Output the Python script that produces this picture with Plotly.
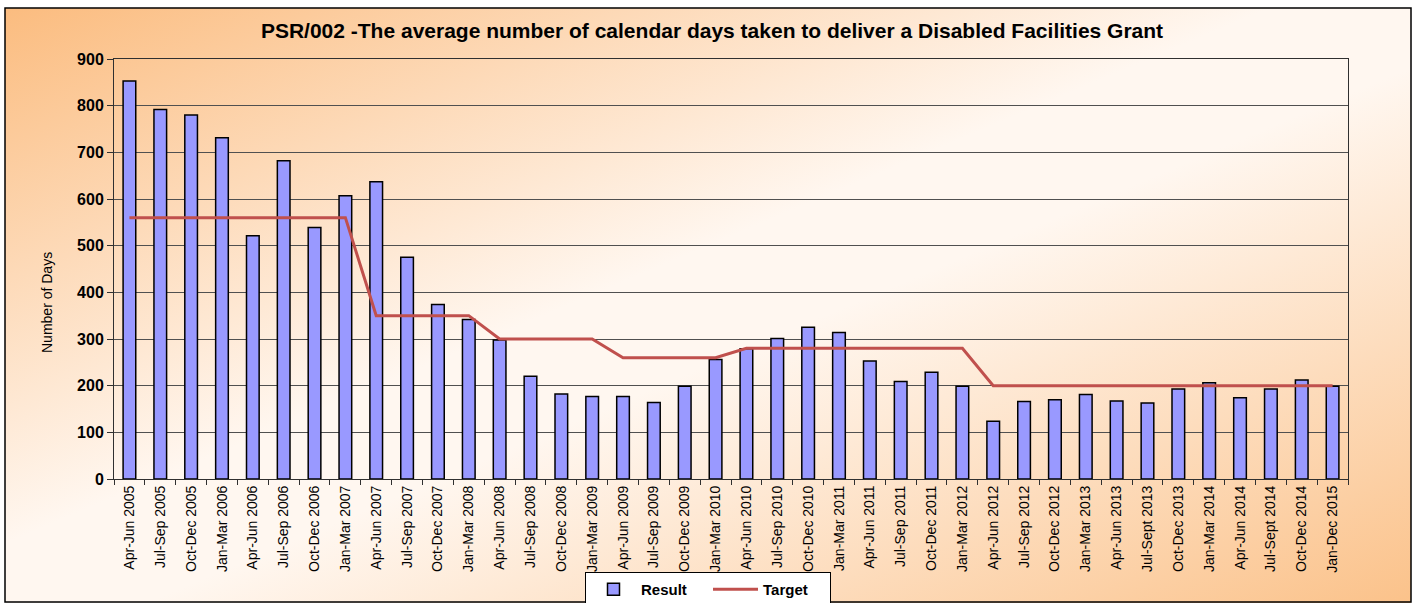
import base64
import plotly.graph_objects as go

quarters = [
    "Apr-Jun 2005", "Jul-Sep 2005", "Oct-Dec 2005", "Jan-Mar 2006",
    "Apr-Jun 2006", "Jul-Sep 2006", "Oct-Dec 2006", "Jan-Mar 2007",
    "Apr-Jun 2007", "Jul-Sep 2007", "Oct-Dec 2007", "Jan-Mar 2008",
    "Apr-Jun 2008", "Jul-Sep 2008", "Oct-Dec 2008", "Jan-Mar 2009",
    "Apr-Jun 2009", "Jul-Sep 2009", "Oct-Dec 2009", "Jan-Mar 2010",
    "Apr-Jun 2010", "Jul-Sep 2010", "Oct-Dec 2010", "Jan-Mar 2011",
    "Apr-Jun 2011", "Jul-Sep 2011", "Oct-Dec 2011", "Jan-Mar 2012",
    "Apr-Jun 2012", "Jul-Sep 2012", "Oct-Dec 2012", "Jan-Mar 2013",
    "Apr-Jun 2013", "Jul-Sept 2013", "Oct-Dec 2013", "Jan-Mar 2014",
    "Apr-Jun 2014", "Jul-Sept 2014", "Oct-Dec 2014", "Jan-Dec 2015",
]

result = [
    853, 792, 780, 731, 521, 682, 539, 607,
    637, 475, 374, 342, 298, 220, 182, 177,
    177, 164, 199, 256, 279, 301, 325, 314,
    253, 209, 229, 199, 124, 166, 170, 181,
    167, 163, 193, 206, 174, 193, 212, 199,
]

target = [
    560, 560, 560, 560, 560, 560, 560, 560,
    350, 350, 350, 350, 300, 300, 300, 300,
    260, 260, 260, 260, 280, 280, 280, 280,
    280, 280, 280, 280, 200, 200, 200, 200,
    200, 200, 200, 200, 200, 200, 200, 200,
]

title_text = "PSR/002 -The average number of calendar days taken to deliver a Disabled Facilities Grant"
y_title = "Number of Days"

FONT = "Liberation Sans, Arial, sans-serif"

fig = go.Figure()
fig.add_trace(go.Bar(
    x=quarters, y=result, name="Result",
    marker=dict(color="#9999ff", line=dict(color="black", width=1.5)),
))
fig.add_trace(go.Scatter(
    x=quarters, y=target, name="Target", mode="lines",
    line=dict(color="#c0504d", width=3),
))

# background gradient for the chart area (outer box)
svg = (
    '<svg xmlns="http://www.w3.org/2000/svg" width="100" height="100" '
    'viewBox="0 0 100 100" preserveAspectRatio="none">'
    '<defs><linearGradient id="g" x1="0" y1="0" x2="1" y2="1">'
    '<stop offset="0" stop-color="#fbbc7f"/>'
    '<stop offset="0.45" stop-color="#fff7f0"/>'
    '<stop offset="0.55" stop-color="#fff7f0"/>'
    '<stop offset="1" stop-color="#fbc28a"/>'
    '</linearGradient></defs>'
    '<rect x="0" y="0" width="100" height="100" fill="url(#g)"/></svg>'
)
src = "data:image/svg+xml;base64," + base64.b64encode(svg.encode()).decode()

W, H = 1418, 603
L, R, T, B = 114, 1348, 59, 479
pw, ph = R - L, B - T


def px(x):
    return (x - L) / pw


def py(y):
    return (B - y) / ph


fig.add_layout_image(dict(
    source=src, xref="paper", yref="paper",
    x=px(5), y=py(8), sizex=px(1411) - px(5), sizey=py(8) - py(603),
    xanchor="left", yanchor="top", sizing="stretch", layer="below",
))
fig.add_shape(type="rect", xref="paper", yref="paper",
              x0=px(5), x1=px(1411), y0=py(602), y1=py(8),
              line=dict(color="black", width=1.5), fillcolor="rgba(0,0,0,0)",
              layer="above")

fig.add_annotation(text=y_title, xref="paper", yref="paper",
                   x=px(47), y=py(303), textangle=-90, showarrow=False,
                   xanchor="center", yanchor="middle",
                   font=dict(family=FONT, size=14, color="black"))

fig.update_layout(
    width=W, height=H,
    margin=dict(l=L, r=W - R, t=T, b=H - B, autoexpand=False),
    paper_bgcolor="white",
    plot_bgcolor="#dfb3b5",
    bargap=0.59,
    title=dict(text=title_text, x=712 / W, y=1 - 31 / H, xref="container",
               yref="container", xanchor="center", yanchor="middle",
               font=dict(family=FONT, size=21, color="black", weight="bold")),
    legend=dict(orientation="h", x=px(708), y=py(589.5), xanchor="center",
                yanchor="middle", bgcolor="white", bordercolor="black",
                borderwidth=1, itemwidth=45, entrywidth=62,
                font=dict(family=FONT, size=15, color="black",
                          weight="bold")),
    showlegend=True,
)
fig.update_xaxes(
    type="category", showline=True, linecolor="#303030", linewidth=1,
    mirror=True, ticks="outside", tickson="boundaries", ticklen=5,
    tickcolor="#303030", tickangle=-90, showgrid=False,
    tickfont=dict(family=FONT, size=14, color="black"),
)
fig.update_yaxes(
    range=[0, 900], dtick=100, showline=True, linecolor="#303030",
    linewidth=1, mirror=True, ticks="outside", ticklen=6,
    tickcolor="#303030", showgrid=True, gridcolor="#505050", gridwidth=1,
    zeroline=False,
    tickfont=dict(family=FONT, size=16, color="black", weight="bold"),
)

fig.write_html(
    "out.html",
    config={"displayModeBar": False},
    post_script="document.body.style.margin='0';document.body.style.overflow='hidden';",
)
